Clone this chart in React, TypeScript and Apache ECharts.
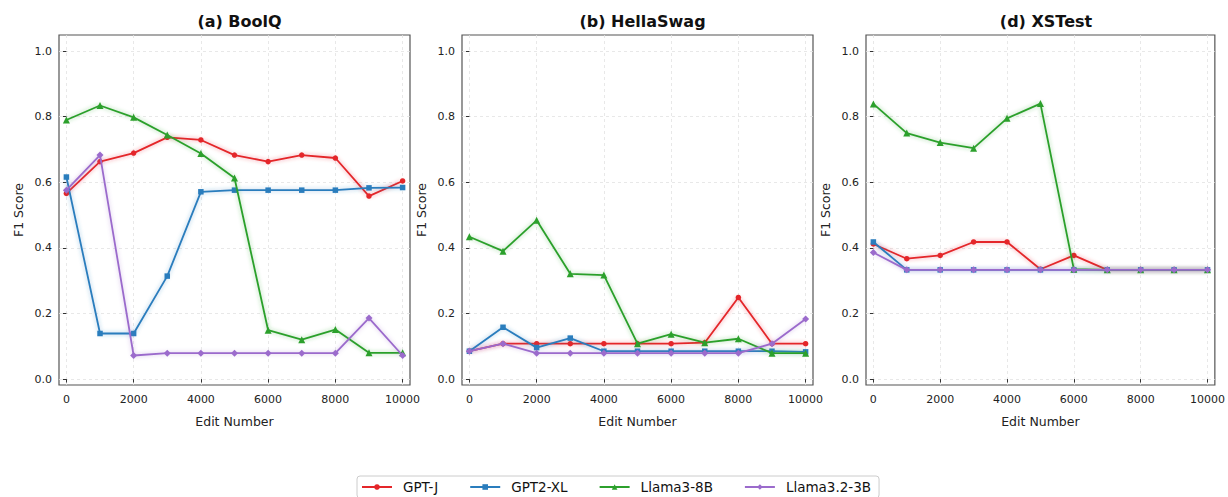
import React, { useEffect, useRef } from "react";
import * as echarts from "echarts";

const editNumbers = [0, 1000, 2000, 3000, 4000, 5000, 6000, 7000, 8000, 9000, 10000];
const xTicks = [0, 2000, 4000, 6000, 8000, 10000];
const yTicks = [0, 0.2, 0.4, 0.6, 0.8, 1.0];

const panelTitles = ["(a) BoolQ", "(b) HellaSwag", "(d) XSTest"];
const modelNames = ["GPT-J", "GPT2-XL", "Llama3-8B", "Llama3.2-3B"];
const modelColors = ["#e4262a", "#2a7dbd", "#2ca02c", "#9b6bcc"];
const modelSymbols = ["circle", "rect", "triangle", "diamond"];

// BoolQ
const boolqGPTJ = [0.566, 0.663, 0.689, 0.737, 0.729, 0.683, 0.663, 0.683, 0.674, 0.558, 0.604];
const boolqGPT2XL = [0.616, 0.139, 0.139, 0.314, 0.571, 0.576, 0.576, 0.576, 0.576, 0.583, 0.584];
const boolqLlama3 = [0.79, 0.834, 0.798, 0.744, 0.688, 0.613, 0.149, 0.12, 0.151, 0.08, 0.08];
const boolqLlama32 = [0.576, 0.683, 0.072, 0.079, 0.079, 0.079, 0.079, 0.079, 0.079, 0.186, 0.072];

// HellaSwag
const hellaGPTJ = [0.085, 0.108, 0.108, 0.108, 0.108, 0.108, 0.108, 0.111, 0.249, 0.108, 0.108];
const hellaGPT2XL = [0.085, 0.158, 0.096, 0.125, 0.085, 0.085, 0.085, 0.085, 0.085, 0.085, 0.083];
const hellaLlama3 = [0.434, 0.39, 0.484, 0.321, 0.317, 0.108, 0.137, 0.111, 0.123, 0.079, 0.079];
const hellaLlama32 = [0.085, 0.108, 0.079, 0.079, 0.079, 0.079, 0.079, 0.079, 0.079, 0.108, 0.183];

// XSTest
const xsGPTJ = [0.412, 0.367, 0.377, 0.418, 0.418, 0.335, 0.377, 0.333, 0.333, 0.333, 0.333];
const xsGPT2XL = [0.418, 0.333, 0.333, 0.333, 0.333, 0.333, 0.333, 0.333, 0.333, 0.333, 0.333];
const xsLlama3 = [0.839, 0.75, 0.721, 0.704, 0.795, 0.84, 0.335, 0.333, 0.333, 0.333, 0.333];
const xsLlama32 = [0.386, 0.333, 0.333, 0.333, 0.333, 0.333, 0.333, 0.333, 0.333, 0.333, 0.333];

const panelData = [
  [boolqGPTJ, boolqGPT2XL, boolqLlama3, boolqLlama32],
  [hellaGPTJ, hellaGPT2XL, hellaLlama3, hellaLlama32],
  [xsGPTJ, xsGPT2XL, xsLlama3, xsLlama32],
];

const FONT = "DejaVu Sans";

function hexToRgba(hex: string, a: number) {
  const n = parseInt(hex.slice(1), 16);
  return `rgba(${(n >> 16) & 255},${(n >> 8) & 255},${n & 255},${a})`;
}

export default function App() {
  const ref = useRef<HTMLDivElement>(null);
  useEffect(() => {
    document.body.style.margin = "0";
    if (!ref.current) return;
    const chart = echarts.init(ref.current, null, { renderer: "svg" });
    const gridLefts = [59, 462, 866];
    const gridWidths = [351, 351, 350];
    const grids = gridLefts.map((l, i) => ({
      left: l,
      top: 35,
      width: gridWidths[i],
      height: 350,
      show: true,
      borderColor: "#555",
      borderWidth: 1.2,
      backgroundColor: "transparent",
    }));
    const titles = panelTitles.map((t, i) => ({
      text: t,
      left: gridLefts[i] + gridWidths[i] / 2,
      top: 8,
      textAlign: "center",
      textStyle: { fontFamily: FONT, fontSize: 16, fontWeight: "bold", color: "#111" },
    }));
    const xAxes = [0, 1, 2].map((i) => ({
      type: "value",
      gridIndex: i,
      min: -220,
      max: 10220,
      name: "Edit Number",
      nameLocation: "middle",
      nameGap: 30,
      nameTextStyle: { fontFamily: FONT, fontSize: 12.5, color: "#222" },
      axisLine: { show: false },
      axisTick: { show: true, length: 3.5, inside: false, customValues: xTicks, lineStyle: { color: "#333" } },
      axisLabel: {
        customValues: xTicks,
        fontFamily: FONT,
        fontSize: 11,
        color: "#222",
        margin: 9,
        formatter: (v: number) => String(v),
      },
      splitLine: { show: true, lineStyle: { type: [3, 3], color: "#e2e2e2", width: 0.8 } },
    }));
    const yAxes = [0, 1, 2].map((i) => ({
      type: "value",
      gridIndex: i,
      min: -0.018,
      max: 1.049,
      name: "F1 Score",
      nameLocation: "middle",
      nameGap: 34,
      nameTextStyle: { fontFamily: FONT, fontSize: 12.5, color: "#222" },
      axisLine: { show: false },
      axisTick: { show: true, length: 3.5, customValues: yTicks, lineStyle: { color: "#333" } },
      axisLabel: {
        customValues: yTicks,
        fontFamily: FONT,
        fontSize: 11,
        color: "#222",
        margin: 7,
        formatter: (v: number) => v.toFixed(1),
      },
      splitLine: { show: true, lineStyle: { type: [3, 3], color: "#e2e2e2", width: 0.8 } },
    }));
    const series: any[] = [];
    panelData.forEach((models, p) => {
      models.forEach((vals, m) => {
        series.push({
          type: "line",
          name: modelNames[m],
          xAxisIndex: p,
          yAxisIndex: p,
          data: editNumbers.map((x, k) => [x, vals[k]]),
          symbol: modelSymbols[m],
          symbolSize: m === 2 ? 7 : m === 3 ? 7 : 5.5,
          showSymbol: true,
          color: modelColors[m],
          lineStyle: {
            width: 1.8,
            color: modelColors[m],
            shadowBlur: 4,
            shadowColor: hexToRgba(modelColors[m], 0.45),
          },
          itemStyle: { color: modelColors[m] },
          z: 2 + m,
        });
      });
    });
    chart.setOption({
      animation: false,
      backgroundColor: "#fff",
      title: titles,
      grid: grids,
      xAxis: xAxes,
      yAxis: yAxes,
      legend: {
        data: modelNames,
        left: 357,
        top: 476,
        orient: "horizontal",
        itemWidth: 30,
        itemHeight: 7,
        itemGap: 31,
        borderColor: "#ccc",
        borderWidth: 1,
        borderRadius: 3,
        padding: [4, 8, 4, 4],
        textStyle: { fontFamily: FONT, fontSize: 13.5, color: "#111", padding: [0, 0, 0, 6] },
      },
      series,
    });
    return () => chart.dispose();
  }, []);
  return <div ref={ref} style={{ width: 1228, height: 497 }} />;
}
